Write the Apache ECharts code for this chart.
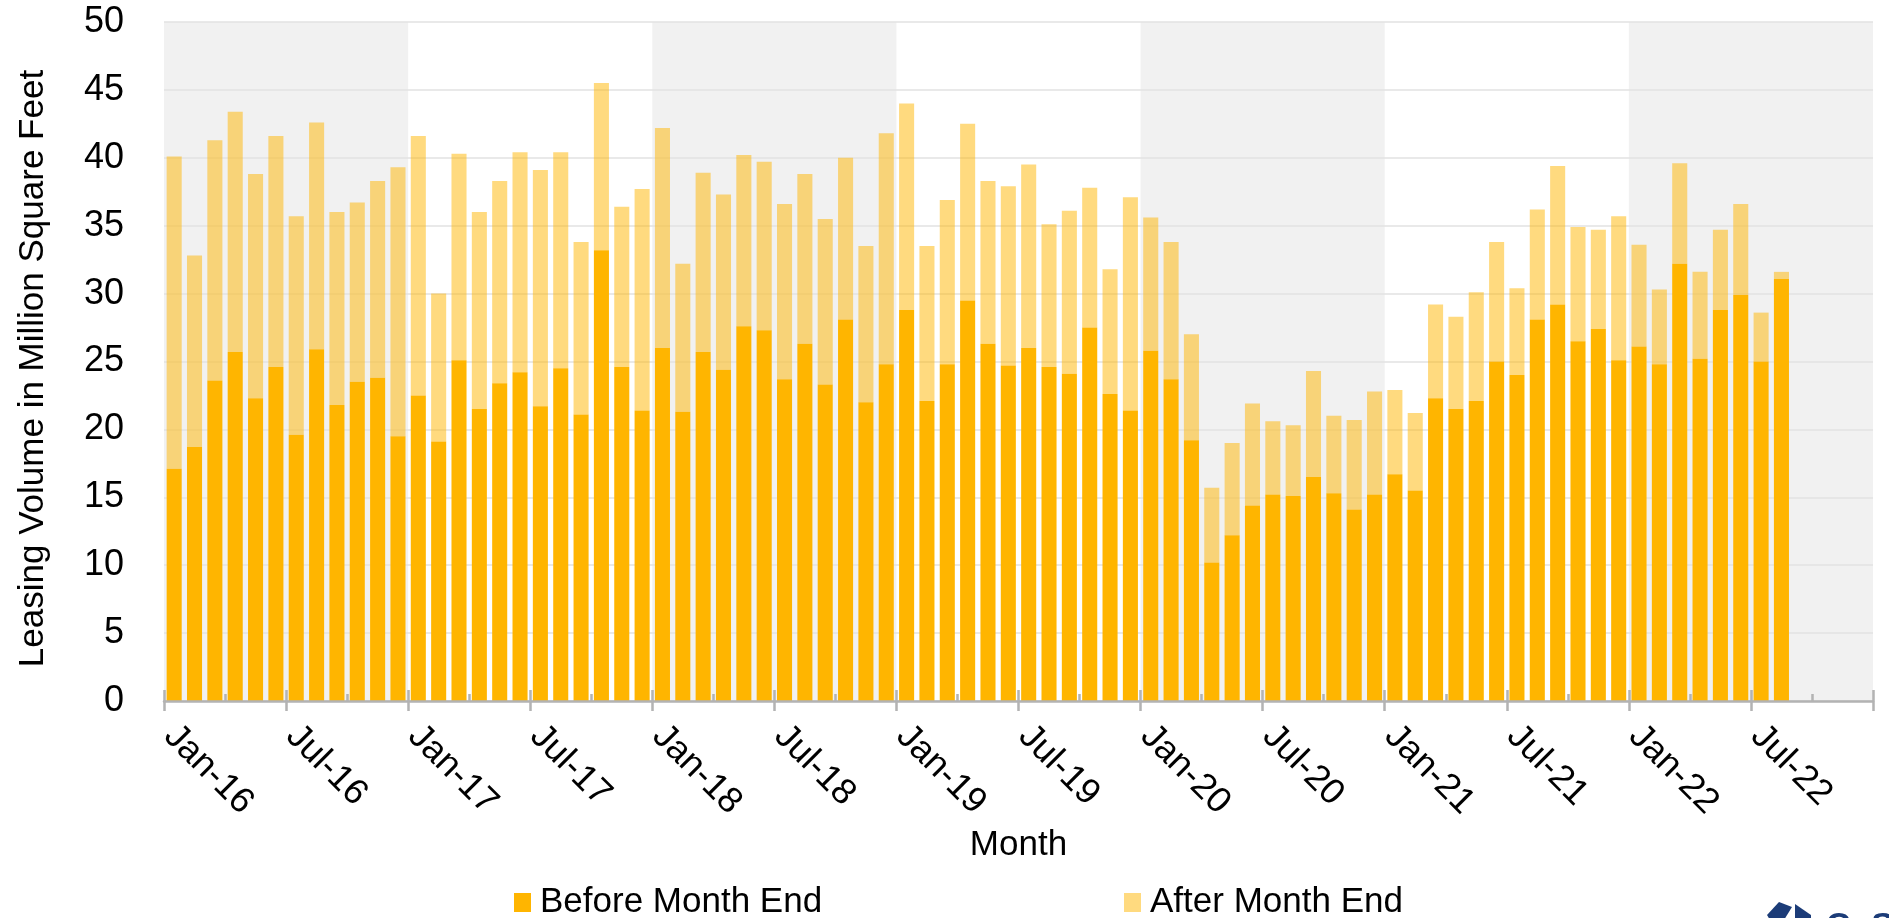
<!DOCTYPE html>
<html><head><meta charset="utf-8">
<script src="https://cdn.jsdelivr.net/npm/echarts@6/dist/echarts.min.js"></script>
<style>html,body{margin:0;padding:0;background:#fff}#c{width:1889px;height:918px}</style>
</head><body><div id="c"></div>
<script>
const categories = [
 'Jan-16','Feb-16','Mar-16','Apr-16','May-16','Jun-16','Jul-16','Aug-16','Sep-16','Oct-16','Nov-16','Dec-16',
 'Jan-17','Feb-17','Mar-17','Apr-17','May-17','Jun-17','Jul-17','Aug-17','Sep-17','Oct-17','Nov-17','Dec-17',
 'Jan-18','Feb-18','Mar-18','Apr-18','May-18','Jun-18','Jul-18','Aug-18','Sep-18','Oct-18','Nov-18','Dec-18',
 'Jan-19','Feb-19','Mar-19','Apr-19','May-19','Jun-19','Jul-19','Aug-19','Sep-19','Oct-19','Nov-19','Dec-19',
 'Jan-20','Feb-20','Mar-20','Apr-20','May-20','Jun-20','Jul-20','Aug-20','Sep-20','Oct-20','Nov-20','Dec-20',
 'Jan-21','Feb-21','Mar-21','Apr-21','May-21','Jun-21','Jul-21','Aug-21','Sep-21','Oct-21','Nov-21','Dec-21',
 'Jan-22','Feb-22','Mar-22','Apr-22','May-22','Jun-22','Jul-22','Aug-22','Sep-22','Oct-22','Nov-22','Dec-22'
];
const beforeMonthEnd = [
 17.1, 18.7, 23.6, 25.7, 22.3, 24.6, 19.6, 25.9, 21.8, 23.5, 23.8, 19.5,
 22.5, 19.1, 25.1, 21.5, 23.4, 24.2, 21.7, 24.5, 21.1, 33.2, 24.6, 21.4,
 26.0, 21.3, 25.7, 24.4, 27.6, 27.3, 23.7, 26.3, 23.3, 28.1, 22.0, 24.8,
 28.8, 22.1, 24.8, 29.5, 26.3, 24.7, 26.0, 24.6, 24.1, 27.5, 22.6, 21.4,
 25.8, 23.7, 19.2, 10.2, 12.2, 14.4, 15.2, 15.1, 16.5, 15.3, 14.1, 15.2,
 16.7, 15.5, 22.3, 21.5, 22.1, 25.0, 24.0, 28.1, 29.2, 26.5, 27.4, 25.1,
 26.1, 24.8, 32.2, 25.2, 28.8, 29.9, 25.0, 31.1
];
const afterMonthEnd = [
 23.0, 14.1, 17.7, 17.7, 16.5, 17.0, 16.1, 16.7, 14.2, 13.2, 14.5, 19.8,
 19.1, 10.9, 15.2, 14.5, 14.9, 16.2, 17.4, 15.9, 12.7, 12.3, 11.8, 16.3,
 16.2, 10.9, 13.2, 12.9, 12.6, 12.4, 12.9, 12.5, 12.2, 11.9, 11.5, 17.0,
 15.2, 11.4, 12.1, 13.0, 12.0, 13.2, 13.5, 10.5, 12.0, 10.3, 9.2, 15.7,
 9.8, 10.1, 7.8, 5.5, 6.8, 7.5, 5.4, 5.2, 7.8, 5.7, 6.6, 7.6,
 6.2, 5.7, 6.9, 6.8, 8.0, 8.8, 6.4, 8.1, 10.2, 8.4, 7.3, 10.6,
 7.5, 5.5, 7.4, 6.4, 5.9, 6.7, 3.6, 0.5
];
const seriesNames = ['Before Month End', 'After Month End'];
const yMin = 0, yMax = 50, yStep = 5;
const labelStep = 6;   // months between labelled ticks
const bandStep = 12;   // months per shaded/unshaded band

const FONT = "'Liberation Sans', Arial, sans-serif";
const AXIS_GREY = '#b3b3b3';
const chart = echarts.init(document.getElementById('c'), null, {renderer: 'canvas'});
const nCat = categories.length;

const legendBase = {top: 885, padding: 0, itemWidth: 17, itemHeight: 19, icon: 'rect', selectedMode: false,
  textStyle: {fontSize: 35, color: '#000', fontFamily: FONT, padding: [0, 0, 0, 4]}};

chart.setOption({
  animation: false,
  backgroundColor: '#fff',
  textStyle: {fontFamily: FONT},
  grid: {left: 164, right: 16, top: 22, bottom: 217, containLabel: false},
  legend: [
    Object.assign({data: [seriesNames[0]], left: 514}, legendBase),
    Object.assign({data: [seriesNames[1]], left: 1124}, legendBase)
  ],
  xAxis: [
    {type: 'category', data: categories, show: false, boundaryGap: true},
    {type: 'value', min: 0, max: nCat, interval: labelStep, position: 'bottom', z: 5,
     name: 'Month', nameLocation: 'middle', nameGap: 127,
     nameTextStyle: {fontSize: 35, color: '#000', fontFamily: FONT},
     axisLine: {show: true, lineStyle: {color: AXIS_GREY, width: 2.5}},
     axisTick: {show: true, inside: true, length: 11, lineStyle: {color: AXIS_GREY, width: 2.5}},
     minorTick: {show: true, splitNumber: 2, length: 7, lineStyle: {color: AXIS_GREY, width: 2.5}},
     axisLabel: {rotate: -45, margin: 24, fontSize: 36, color: '#000', fontFamily: FONT,
                 padding: [0, 0, 0, 8],
                 formatter: v => categories[v] || ''},
     splitLine: {show: false}},
    {type: 'value', min: 0, max: nCat, interval: labelStep, position: 'bottom', z: 5,
     axisLine: {show: false},
     axisTick: {show: true, inside: false, length: 10, lineStyle: {color: AXIS_GREY, width: 2.5}},
     axisLabel: {show: false}, splitLine: {show: false}},
    {type: 'value', min: 0, max: nCat, interval: bandStep, position: 'bottom', z: 0,
     axisLine: {show: false}, axisTick: {show: false}, axisLabel: {show: false}, splitLine: {show: false},
     splitArea: {show: true, areaStyle: {color: ['#f1f1f1', 'rgba(255,255,255,0)']}}}
  ],
  yAxis: {
    type: 'value', min: yMin, max: yMax, interval: yStep, z: 1,
    name: 'Leasing Volume in Million Square Feet', nameLocation: 'middle', nameGap: 113,
    nameTextStyle: {fontSize: 35, color: '#000', fontFamily: FONT, padding: [0, 14, 0, 0]},
    axisLine: {show: false}, axisTick: {show: false},
    axisLabel: {fontSize: 36, color: '#000', margin: 40, fontFamily: FONT},
    splitLine: {show: true, lineStyle: {color: '#e2e2e2', width: 1.5}}
  },
  series: [
    {name: seriesNames[0], type: 'bar', stack: 'total', xAxisIndex: 0, yAxisIndex: 0,
     data: beforeMonthEnd, barCategoryGap: '26%', z: 2,
     itemStyle: {color: '#FFB500'}},
    {name: seriesNames[1], type: 'bar', stack: 'total', xAxisIndex: 0, yAxisIndex: 0,
     data: afterMonthEnd, barCategoryGap: '26%', z: 2,
     itemStyle: {color: 'rgba(255,181,0,0.5)'}}
  ],
  graphic: [
    {type: 'polygon', z: 10, shape: {points: [[1767, 915], [1779, 902], [1792, 907], [1784, 920], [1770, 920]]},
     style: {fill: '#1c3c78'}},
    {type: 'polygon', z: 10, shape: {points: [[1795, 904], [1811, 915], [1811, 920], [1795, 920]]},
     style: {fill: '#1c3c78'}},
    {type: 'text', z: 10, left: 1826, top: 910,
     style: {text: 'CoStar', fontSize: 34, fontWeight: 'bold', fill: '#1c3c78', fontFamily: FONT}}
  ]
});
</script>
</body></html>
